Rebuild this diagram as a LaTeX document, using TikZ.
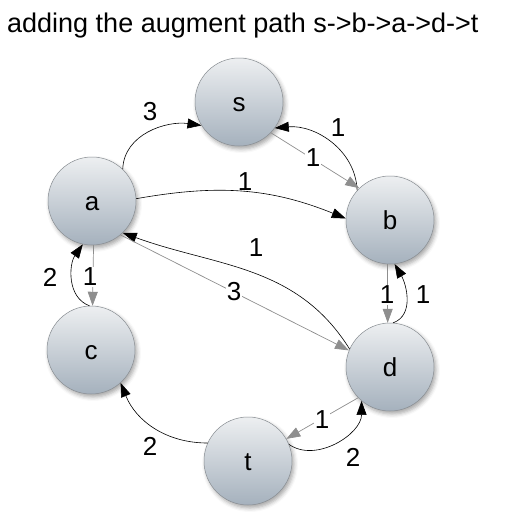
\documentclass[tikz,border=0pt]{standalone}
\usepackage{fontspec}
\setmainfont{Liberation Sans}
\usetikzlibrary{arrows.meta,shadows.blur}
\definecolor{ctop}{HTML}{EDEFF1}
\definecolor{cbot}{HTML}{A5B1BD}
\definecolor{gedge}{HTML}{8E8E8E}
\definecolor{cbord}{HTML}{8A8F94}
\begin{document}
\begin{tikzpicture}[x=1pt,y=-1pt,
  vtx/.style={circle, minimum size=88pt, inner sep=0pt, draw=cbord, line width=0.5pt,
    top color=ctop, bottom color=cbot,
    blur shadow={shadow xshift=2pt, shadow yshift=-3pt, shadow blur radius=4pt, shadow opacity=35},
    font=\fontsize{26}{26}\selectfont, text height=19pt, text depth=0pt},
  blk/.style={draw=black, line width=0.6pt, -{Triangle[length=14pt,width=10pt]}},
  gry/.style={draw=gedge, line width=0.7pt, -{Triangle[length=14pt,width=10pt,fill=gedge]}},
  lbl/.style={font=\fontsize{26}{26}\selectfont, inner sep=1pt},
  glbl/.style={lbl, fill=white}
]
\useasboundingbox (0,0) rectangle (510,520);
\node[anchor=base west, inner sep=0pt, font=\fontsize{27}{27}\selectfont] (title) at (7,32) {adding the augment path s->b->a->d->t};

\node[vtx] (s) at (239,102) {s};
\node[vtx] (a) at (92,201) {a};
\node[vtx] (b) at (390,220) {b};
\node[vtx] (c) at (91,350) {c};
\node[vtx] (d) at (390,367) {d};
\node[vtx] (t) at (248,461) {t};

% edges
\draw[blk] (a.46) to[out=88,in=172] (s.212);
\draw[blk] (b.138) to[out=92,in=5] (s.324);
\draw[gry] (s.316) -- (b.134);
\draw[blk] (a.3) to[out=10,in=158] (b.178);
\draw[blk] (d.156) to[out=122,in=340] (a.314);
\draw[gry] (a.310) -- (d.158);
\draw[blk] (c.92) to[out=160,in=235] (a.258);
\draw[gry] (a.272) -- (c.88);
\draw[blk] (d.86) to[out=20,in=300] (b.276);
\draw[gry] (b.267) -- (d.93);
\draw[blk] (t.156) to[out=180,in=292] (c.312);
\draw[blk] (t.22) to[out=-35,in=270] (d.230);
\draw[gry] (d.224) -- (t.30);

% labels
\node[lbl]  (l1)  at (150,112) {3};
\node[lbl]  (l2)  at (338,128) {1};
\node[glbl] (l3)  at (313,158) {1};
\node[lbl]  (l4)  at (245,182) {1};
\node[lbl]  (l5)  at (256,248) {1};
\node[glbl] (l6)  at (234,292) {3};
\node[lbl]  (l7)  at (50,277) {2};
\node[glbl] (l8)  at (90,277) {1};
\node[glbl] (l9)  at (387,295) {1};
\node[lbl]  (l10) at (423,295) {1};
\node[lbl]  (l11) at (150,446) {2};
\node[lbl]  (l12) at (353,457) {2};
\node[glbl] (l13) at (322,420) {1};
\end{tikzpicture}
\end{document}
